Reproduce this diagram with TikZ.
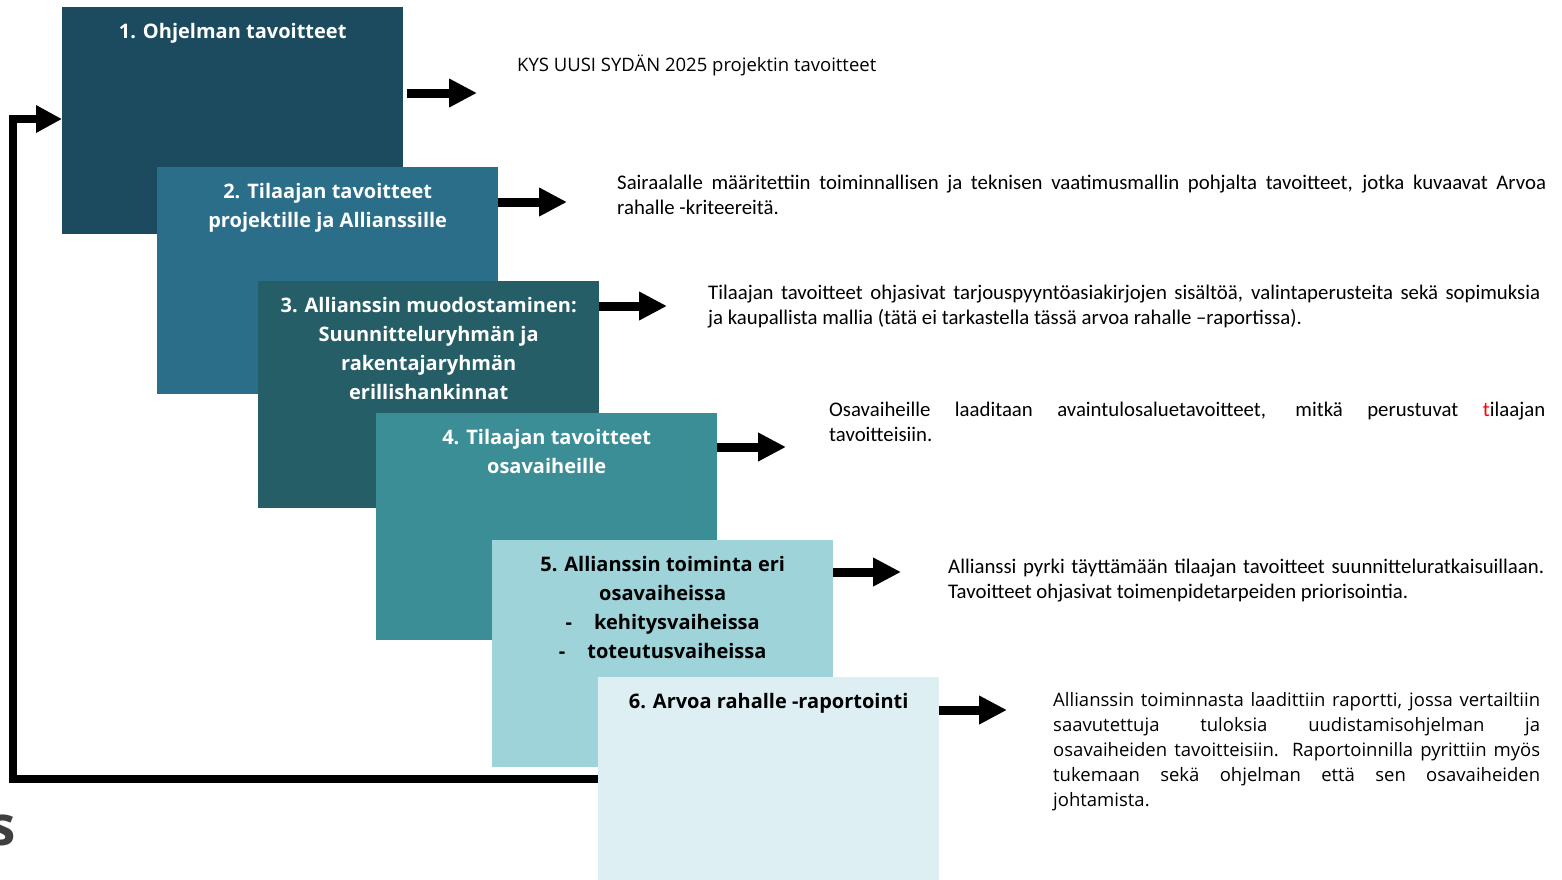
\documentclass[tikz,border=0pt]{standalone}
\usepackage{fontspec}
\setmainfont{Open Sans}
\newfontfamily\calfont{Carlito}
\usetikzlibrary{arrows.meta}
\definecolor{vaiheA}{HTML}{1C4A5F}
\definecolor{vaiheB}{HTML}{2A6E8A}
\definecolor{vaiheC}{HTML}{255E66}
\definecolor{vaiheD}{HTML}{3C8E96}
\definecolor{vaiheE}{HTML}{9DD3D9}
\definecolor{vaiheF}{HTML}{DDEFF3}
\definecolor{harmaa}{HTML}{3F3F3F}
\tikzset{
  vaihe/.style={fill=#1, draw=none, inner sep=0pt, anchor=north west,
    minimum width=341pt, minimum height=227pt},
  otsikko/.style={anchor=base, inner sep=0pt, yshift=-31pt,
    font=\bfseries\fontsize{20}{29}\selectfont},
  kuvaus/.style={anchor=base west, inner sep=0pt, text=black},
  nuoli/.style={line width=9pt, -{Triangle[length=28pt,width=27pt]}},
  paluu/.style={line width=8pt, -{Triangle[length=26pt,width=26pt]}},
}
\newcommand{\kuvausteksti}[2]{\parbox[t]{#1}{\hyphenpenalty=10000\emergencystretch=3em #2}}
\begin{document}
\begin{tikzpicture}[x=1pt,y=-1pt]
\useasboundingbox (0,0) rectangle (1562,879);
% vaiheet
\node[vaihe=vaiheA] (b1) at (62,7) {};
\node[otsikko, text=white] (t1) at (b1.north) {\parbox[t]{341pt}{\centering 1. Ohjelman tavoitteet}};
\node[vaihe=vaiheB] (b2) at (157,167) {};
\node[otsikko, text=white] (t2) at (b2.north) {\parbox[t]{341pt}{\centering 2. Tilaajan tavoitteet\\projektille ja Allianssille}};
\node[vaihe=vaiheC] (b3) at (258,281) {};
\node[otsikko, text=white] (t3) at (b3.north) {\parbox[t]{341pt}{\centering 3. Allianssin muodostaminen:\\Suunnitteluryhmän ja\\rakentajaryhmän\\erillishankinnat}};
\node[vaihe=vaiheD] (b4) at (376,413) {};
\node[otsikko, text=white] (t4) at (b4.north) {\parbox[t]{341pt}{\centering 4. Tilaajan tavoitteet\\osavaiheille}};
\node[vaihe=vaiheE] (b5) at (492,540) {};
\node[otsikko, text=black] (t5) at (b5.north) {\parbox[t]{341pt}{\centering 5. Allianssin toiminta eri\\osavaiheissa\\-\hspace{22pt}kehitysvaiheissa\\-\hspace{22pt}toteutusvaiheissa}};
\node[vaihe=vaiheF] (b6) at (598,677) {};
\node[otsikko, text=black] (t6) at (b6.north) {\parbox[t]{341pt}{\centering 6. Arvoa rahalle -raportointi}};
% kuvaukset
\node[kuvaus, font=\fontsize{18.5}{25}\selectfont] (k1) at (517,71.5) {KYS UUSI SYDÄN 2025 projektin tavoitteet};
\node[kuvaus, font=\calfont\fontsize{20.8}{25}\selectfont] (k2) at (617,189) {\kuvausteksti{929pt}{Sairaalalle määritettiin toiminnallisen ja teknisen vaatimusmallin pohjalta tavoitteet, jotka kuvaavat Arvoa\linebreak rahalle -kriteereitä.}};
\node[kuvaus, font=\calfont\fontsize{20.8}{25}\selectfont] (k3) at (708,299) {\kuvausteksti{832pt}{Tilaajan tavoitteet ohjasivat tarjouspyyntöasiakirjojen sisältöä, valintaperusteita sekä sopimuksia\linebreak ja kaupallista mallia (tätä ei tarkastella tässä arvoa rahalle –raportissa).}};
\node[kuvaus, font=\calfont\fontsize{20.8}{25}\selectfont] (k4) at (829,416) {\kuvausteksti{716pt}{Osavaiheille laaditaan avaintulosaluetavoitteet, mitkä perustuvat \textcolor{red}{t}ilaajan\linebreak tavoitteisiin.}};
\node[kuvaus, font=\calfont\fontsize{20.8}{25}\selectfont] (k5) at (948,573) {\kuvausteksti{596pt}{Allianssi pyrki täyttämään tilaajan tavoitteet suunnitteluratkaisuillaan.\linebreak Tavoitteet ohjasivat toimenpidetarpeiden priorisointia.}};
\node[kuvaus, font=\fontsize{18.5}{25}\selectfont] (k6) at (1053,706) {\kuvausteksti{487pt}{Allianssin toiminnasta laadittiin raportti, jossa vertailtiin\linebreak saavutettuja tuloksia uudistamisohjelman ja\linebreak osavaiheiden tavoitteisiin. Raportoinnilla pyrittiin myös\linebreak tukemaan sekä ohjelman että sen osavaiheiden\linebreak johtamista.}};
% nuolet
\coordinate (n1) at (477,93);
\coordinate (n2) at (567,202);
\coordinate (n3) at (667,306);
\coordinate (n4) at (786,447);
\coordinate (n5) at (901,572);
\coordinate (n6) at (1007,710);
\draw[nuoli] ([xshift=4pt]b1.east |- n1) -- (n1);
\draw[nuoli] (b2.east |- n2) -- (n2);
\draw[nuoli] (b3.east |- n3) -- (n3);
\draw[nuoli] (b4.east |- n4) -- (n4);
\draw[nuoli] (b5.east |- n5) -- (n5);
\draw[nuoli] (b6.east |- n6) -- (n6);
% paluunuoli
\coordinate (p1) at (13,779);
\coordinate (p2) at (13,119);
\draw[paluu] (b6.west |- p1) -- (p1) -- (p2) -- (b1.west |- p2);
\node[anchor=base east, inner sep=0pt, text=harmaa, font=\bfseries\fontsize{55}{55}\selectfont] (s) at (16,845) {s};
\end{tikzpicture}
\end{document}
